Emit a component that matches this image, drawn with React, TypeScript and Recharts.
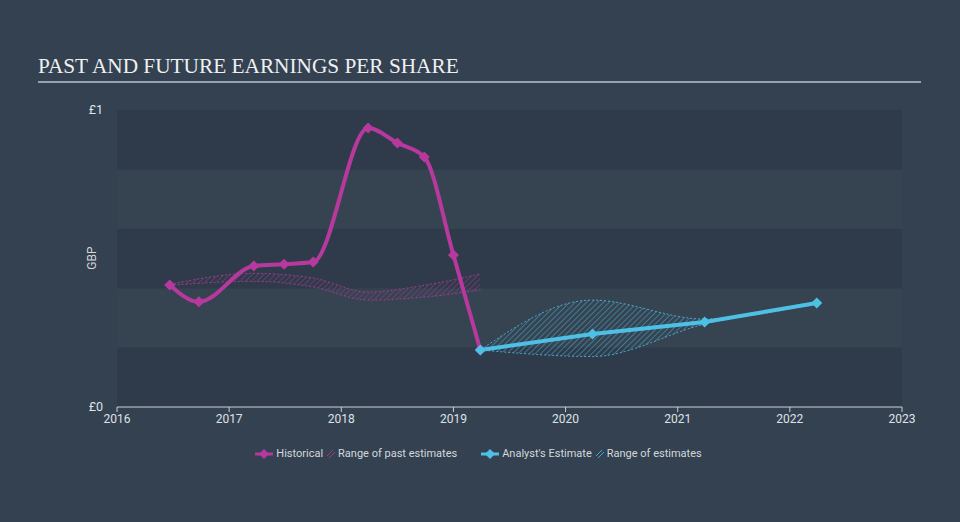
import {
  Area,
  ComposedChart,
  Line,
  ReferenceArea,
  XAxis,
  YAxis,
} from "recharts";

// historical EPS (GBP)
const histYears = [2016.47, 2016.73, 2017.22, 2017.49, 2017.75, 2018.24, 2018.5, 2018.74, 2019.0, 2019.24];
const histEps = [0.411, 0.354, 0.475, 0.481, 0.488, 0.939, 0.889, 0.842, 0.512, 0.192];

// range of past estimates
const pastYears = [2016.47, 2017.22, 2017.75, 2018.24, 2018.74, 2019.24];
const pastLow = [0.41, 0.423, 0.404, 0.36, 0.37, 0.394];
const pastHigh = [0.413, 0.45, 0.434, 0.387, 0.41, 0.448];

// analyst estimates
const estYears = [2019.24, 2020.24, 2021.24, 2022.24];
const estEps = [0.192, 0.246, 0.286, 0.35];
const estLow = [0.192, 0.17, 0.279, 0.35];
const estHigh = [0.192, 0.36, 0.296, 0.35];

const xTicks = [2016, 2017, 2018, 2019, 2020, 2021, 2022, 2023];
const yTicks = [0, 1];
const bands = [0, 0.2, 0.4, 0.6, 0.8];

const PINK = "#b8399e";
const BLUE = "#4ec0e6";

const histData = histYears.map((x, i) => ({ x, eps: histEps[i] }));
const pastData = pastYears.map((x, i) => ({ x, range: [pastLow[i], pastHigh[i]] }));
const estData = estYears.map((x, i) => ({ x, eps: estEps[i] }));
const estRangeData = estYears.map((x, i) => ({ x, range: [estLow[i], estHigh[i]] }));

const Diamond = (color: string, r: number) => (props: any) => {
  const { cx, cy, index } = props;
  if (cx == null || cy == null) return <g key={index} />;
  return (
    <path
      key={index}
      d={`M${cx},${cy - r} L${cx + r},${cy} L${cx},${cy + r} L${cx - r},${cy} Z`}
      fill={color}
    />
  );
};

const legendItems = [
  { kind: "diamond", color: PINK, label: "Historical" },
  { kind: "hatch", color: PINK, label: "Range of past estimates" },
  { kind: "diamond", color: BLUE, label: "Analyst's Estimate" },
  { kind: "hatch", color: BLUE, label: "Range of estimates" },
];

function LegendRow() {
  return (
    <div
      style={{
        position: "absolute",
        top: 447,
        left: 0,
        width: 960,
        display: "flex",
        justifyContent: "center",
        fontFamily: "Roboto, sans-serif",
        fontSize: 11,
        color: "#d3d8dd",
      }}
    >
      {legendItems.map((it, i) => (
        <div key={i} style={{ display: "flex", alignItems: "center", marginRight: i === 1 ? 24 : 3 }}>
          {it.kind === "diamond" ? (
            <svg width={18} height={12} style={{ marginRight: 3 }}>
              <path d="M0,6 L18,6" stroke={it.color} strokeWidth={3} />
              <path d="M9,1 L14,6 L9,11 L4,6 Z" fill={it.color} />
            </svg>
          ) : (
            <svg width={10} height={12} style={{ marginRight: 2 }}>
              <path d="M1,8 L7,2 M3,10 L9,4" stroke={it.color} strokeWidth={1} opacity={0.8} />
            </svg>
          )}
          <span>{it.label}</span>
        </div>
      ))}
    </div>
  );
}

export default function App() {
  return (
    <div
      style={{
        position: "absolute",
        left: 0,
        top: 0,
        width: 960,
        height: 522,
        background: "#344150",
        overflow: "hidden",
      }}
    >
      <div
        style={{
          position: "absolute",
          left: 38,
          top: 54,
          fontFamily: "'Liberation Serif', serif",
          fontSize: 21.3,
          color: "#eef0f2",
          whiteSpace: "nowrap",
        }}
      >
        PAST AND FUTURE EARNINGS PER SHARE
      </div>
      <div
        style={{
          position: "absolute",
          left: 38,
          top: 81,
          width: 883,
          height: 2,
          background: "#98a2ad",
        }}
      />
      <ComposedChart
        width={960}
        height={522}
        margin={{ top: 110, right: 58, bottom: 85, left: 87 }}
        style={{ position: "absolute", left: 0, top: 0 }}
      >
        <defs>
          <pattern id="hatchPast" patternUnits="userSpaceOnUse" width={4} height={4} patternTransform="rotate(45)">
            <line x1={0} y1={0} x2={0} y2={4} stroke={PINK} strokeWidth={1.2} />
          </pattern>
          <pattern id="hatchEst" patternUnits="userSpaceOnUse" width={4} height={4} patternTransform="rotate(45)">
            <line x1={0} y1={0} x2={0} y2={4} stroke={BLUE} strokeWidth={1.2} />
          </pattern>
        </defs>
        <XAxis
          type="number"
          dataKey="x"
          domain={[2016, 2023]}
          ticks={xTicks}
          allowDataOverflow
          height={30}
          stroke="#c9cfd5"
          tickSize={5}
          tick={{ fill: "#dfe3e7", fontSize: 12, fontFamily: "Roboto, sans-serif" }}
        />
        <YAxis
          type="number"
          domain={[0, 1]}
          ticks={yTicks}
          width={30}
          axisLine={false}
          tickLine={false}
          tickMargin={8}
          tickFormatter={(v: number) => `£${v}`}
          tick={{ fill: "#dfe3e7", fontSize: 12.5, fontFamily: "Roboto, sans-serif" }}
        />
        {bands.map((b, i) => (
          <ReferenceArea
            key={b}
            y1={b}
            y2={b + 0.2}
            fill={i % 2 === 0 ? "#2f3b4a" : "#364351"}
            fillOpacity={1}
            stroke="none"
          />
        ))}
        <Area
          data={pastData}
          dataKey="range"
          type="monotone"
          fill="url(#hatchPast)"
          fillOpacity={0.7}
          stroke={PINK}
          strokeOpacity={0.8}
          strokeWidth={1}
          strokeDasharray="2 2"
          isAnimationActive={false}
        />
        <Area
          data={estRangeData}
          dataKey="range"
          type="monotone"
          fill="url(#hatchEst)"
          fillOpacity={0.75}
          stroke={BLUE}
          strokeOpacity={0.8}
          strokeWidth={1}
          strokeDasharray="2 2"
          isAnimationActive={false}
        />
        <Line
          data={histData}
          dataKey="eps"
          type="monotone"
          stroke={PINK}
          strokeWidth={4}
          dot={Diamond(PINK, 5.5)}
          activeDot={false}
          isAnimationActive={false}
        />
        <Line
          data={estData}
          dataKey="eps"
          type="linear"
          stroke={BLUE}
          strokeWidth={4}
          dot={Diamond(BLUE, 5.5)}
          activeDot={false}
          isAnimationActive={false}
        />
        <text
          x={93}
          y={258}
          transform="rotate(-90 93 258)"
          textAnchor="middle"
          dominantBaseline="middle"
          fill="#d3d8dd"
          fontSize={12}
          fontFamily="Roboto, sans-serif"
        >
          GBP
        </text>
      </ComposedChart>
      <LegendRow />
    </div>
  );
}
